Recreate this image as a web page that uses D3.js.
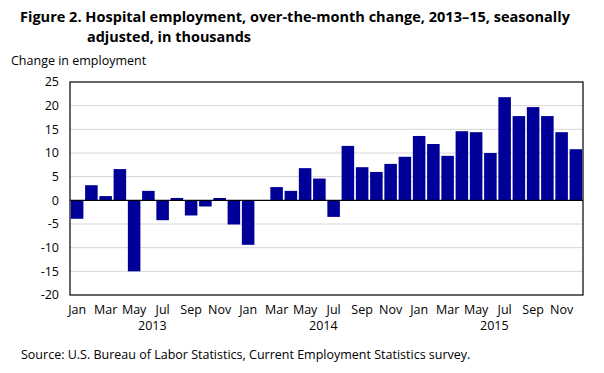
<!DOCTYPE html>
<html>
<head>
<meta charset="utf-8">
<script src="https://d3js.org/d3.v7.min.js"></script>
<style>
  body { margin: 0; background: #fff; }
  svg text { font-family: "Open Sans", sans-serif; fill: #000; }
</style>
</head>
<body>
<svg id="chart" width="604" height="373"></svg>
<script>
// over-the-month change, thousands, Jan 2013 .. Dec 2015
var months = ["Jan","Feb","Mar","Apr","May","Jun","Jul","Aug","Sep","Oct","Nov","Dec"];
var years = ["2013","2014","2015"];
var values2013 = [-3.9, 3.2, 0.9, 6.6, -15.0, 2.0, -4.2, 0.5, -3.2, -1.3, 0.5, -5.1];
var values2014 = [-9.4, 0.0, 2.8, 2.0, 6.8, 4.6, -3.5, 11.5, 7.0, 6.0, 7.7, 9.2];
var values2015 = [13.6, 11.9, 9.4, 14.6, 14.4, 10.0, 21.8, 17.8, 19.7, 17.8, 14.4, 10.8];
var yTicks = [25, 20, 15, 10, 5, 0, -5, -10, -15, -20];

var data = [];
[values2013, values2014, values2015].forEach(function(vals, yi) {
  vals.forEach(function(v, mi) {
    data.push({ key: years[yi] + "-" + mi, month: months[mi], year: years[yi], mi: mi, value: v });
  });
});

var svg = d3.select("#chart");
var plotLeft = 70, plotRight = 583, plotTop = 82, plotBottom = 295;

var x = d3.scaleBand()
  .domain(data.map(function(d) { return d.key; }))
  .range([plotLeft, plotRight])
  .paddingInner(0.12)
  .paddingOuter(0.06);

var y = d3.scaleLinear().domain([-20, 25]).range([plotBottom, plotTop]);

// title
var title = svg.append("text")
  .attr("font-weight", "bold")
  .attr("font-size", 15);
title.append("tspan").attr("x", 20).attr("y", 22)
  .attr("textLength", 550).attr("lengthAdjust", "spacingAndGlyphs")
  .text("Figure 2. Hospital employment, over-the-month change, 2013\u201315, seasonally");
title.append("tspan").attr("x", 87).attr("y", 42)
  .attr("textLength", 164).attr("lengthAdjust", "spacingAndGlyphs")
  .text("adjusted, in thousands");

svg.append("text")
  .attr("x", 11).attr("y", 65)
  .attr("font-size", 12.5)
  .text("Change in employment");

// gridlines
svg.append("g")
  .selectAll("line")
  .data(yTicks.filter(function(t) { return t !== 0 && t !== 25 && t !== -20; }))
  .enter().append("line")
  .attr("x1", plotLeft).attr("x2", plotRight)
  .attr("y1", function(d) { return y(d); })
  .attr("y2", function(d) { return y(d); })
  .attr("stroke", "#d6d6d6")
  .attr("stroke-width", 1);

// y axis labels
svg.append("g")
  .selectAll("text")
  .data(yTicks)
  .enter().append("text")
  .attr("x", 59)
  .attr("y", function(d) { return y(d); })
  .attr("dy", "0.35em")
  .attr("text-anchor", "end")
  .attr("font-size", 12.5)
  .text(function(d) { return d; });

// bars
svg.append("g")
  .selectAll("rect")
  .data(data)
  .enter().append("rect")
  .attr("x", function(d) { return x(d.key); })
  .attr("width", x.bandwidth())
  .attr("y", function(d) { return y(Math.max(0, d.value)); })
  .attr("height", function(d) { return Math.abs(y(d.value) - y(0)); })
  .attr("fill", "#000099");

// zero line
svg.append("line")
  .attr("x1", plotLeft).attr("x2", plotRight)
  .attr("y1", y(0)).attr("y2", y(0))
  .attr("stroke", "#000").attr("stroke-width", 1.2);

// frame
svg.append("rect")
  .attr("x", plotLeft).attr("y", plotTop)
  .attr("width", plotRight - plotLeft).attr("height", plotBottom - plotTop)
  .attr("fill", "none").attr("stroke", "#000").attr("stroke-width", 1.2);

// month labels (every other month)
svg.append("g")
  .selectAll("text")
  .data(data.filter(function(d) { return d.mi % 2 === 0; }))
  .enter().append("text")
  .attr("x", function(d) { return x(d.key) + x.bandwidth() / 2; })
  .attr("y", 314)
  .attr("text-anchor", "middle")
  .attr("font-size", 12.5)
  .text(function(d) { return d.month; });

// year labels
svg.append("g")
  .selectAll("text")
  .data(years)
  .enter().append("text")
  .attr("x", function(d) { return x(d + "-6") - 4; })
  .attr("y", 330)
  .attr("text-anchor", "middle")
  .attr("font-size", 12.5)
  .text(function(d) { return d; });

svg.append("text")
  .attr("x", 21).attr("y", 359)
  .attr("font-size", 12.5)
  .text("Source: U.S. Bureau of Labor Statistics, Current Employment Statistics survey.");
</script>
</body>
</html>
